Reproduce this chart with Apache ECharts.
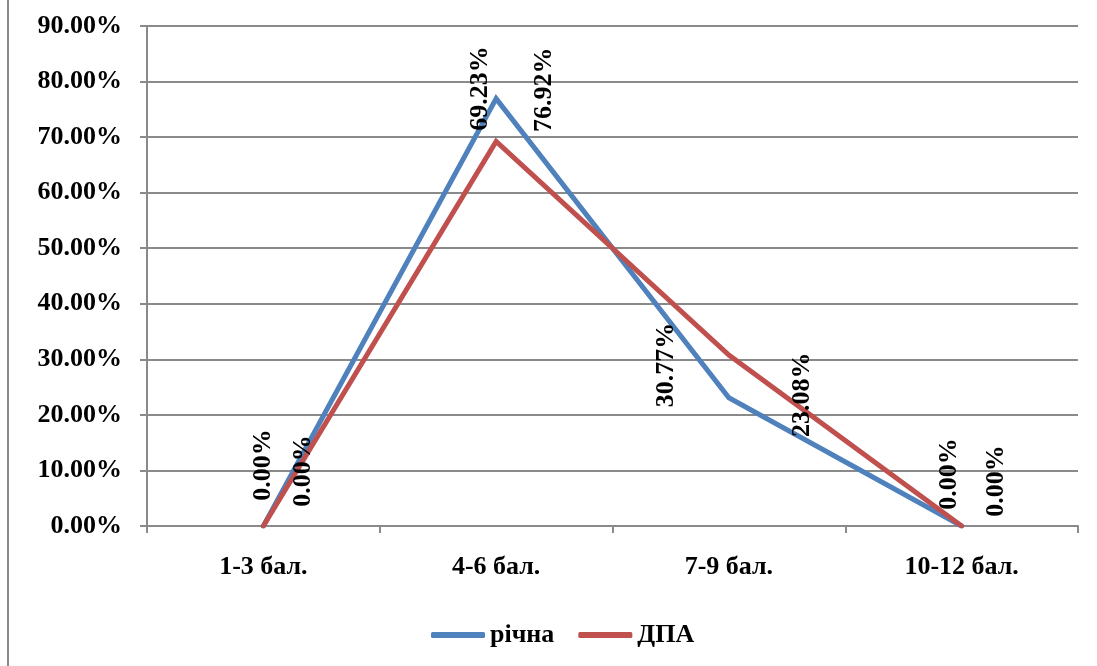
<!DOCTYPE html>
<html>
<head>
<meta charset="utf-8">
<script src="https://cdn.jsdelivr.net/npm/echarts@6/dist/echarts.min.js"></script>
<style>
html,body{margin:0;padding:0;background:#fff;}
#c{width:1097px;height:666px;}
</style>
</head>
<body>
<div id="c"></div>
<script>
const categories = ['1-3 бал.', '4-6 бал.', '7-9 бал.', '10-12 бал.'];
const seriesNames = ['річна', 'ДПА'];
const richna = [0, 76.92, 23.08, 0];
const dpa = [0, 69.23, 30.77, 0];
const yMin = 0, yMax = 90, yStep = 10;

// label placement (screen-pixel shifts [right, down] from each point), as in the original
const richnaLabelShifts = [[40, -55], [48, -9], [73, -3], [35, -45]];
const dpaLabelShifts = [[0, -61], [-16, -53], [-63, 10], [-12, -52]];

const FONT = '"Liberation Serif", "Times New Roman", serif';
const FS = 26;
const pct = v => Number(v).toFixed(2) + '%';

// label offset is applied in the rotated (90°) text frame
const toLocal = s => [-s[1], s[0]];

function buildData(values, shifts) {
  return values.map((v, i) => ({
    value: v,
    label: { offset: toLocal(shifts[i]) }
  }));
}

function lineSeries(name, values, shifts, color) {
  return {
    name: name,
    type: 'line',
    data: buildData(values, shifts),
    symbol: 'circle',
    symbolSize: 1,
    showSymbol: true,
    itemStyle: { color: color },
    lineStyle: { color: color, width: 5, cap: 'round', join: 'miter' },
    label: {
      show: true,
      position: 'inside',
      rotate: 90,
      color: '#000',
      fontFamily: FONT,
      fontWeight: 'bold',
      fontSize: FS,
      formatter: p => pct(p.value)
    },
    emphasis: { disabled: true },
    animation: false
  };
}

const chart = echarts.init(document.getElementById('c'), null, { renderer: 'canvas' });
chart.setOption({
  backgroundColor: '#fff',
  animation: false,
  textStyle: { fontFamily: FONT, fontWeight: 'bold', color: '#000' },
  grid: { left: 147, right: 19, top: 26, bottom: 140, containLabel: false },
  xAxis: {
    type: 'category',
    data: categories,
    boundaryGap: true,
    axisLine: { lineStyle: { color: '#8a8a8a', width: 2 } },
    axisTick: { show: true, length: 7, lineStyle: { color: '#8a8a8a', width: 2 } },
    axisLabel: { color: '#000', fontFamily: FONT, fontWeight: 'bold', fontSize: FS, margin: 28 }
  },
  yAxis: {
    type: 'value',
    min: yMin, max: yMax, interval: yStep,
    axisLine: { show: true, lineStyle: { color: '#8a8a8a', width: 2 } },
    axisTick: { show: true, length: 7, lineStyle: { color: '#8a8a8a', width: 2 } },
    splitLine: { lineStyle: { color: '#8a8a8a', width: 2 } },
    axisLabel: { color: '#000', fontFamily: FONT, fontWeight: 'bold', fontSize: FS, margin: 25, formatter: v => pct(v) }
  },
  legend: {
    data: seriesNames,
    left: 426,
    top: 617,
    icon: 'roundRect',
    itemWidth: 54,
    itemHeight: 6,
    itemGap: 24,
    textStyle: { color: '#000', fontFamily: FONT, fontWeight: 'bold', fontSize: FS }
  },
  graphic: [{
    type: 'line',
    shape: { x1: 8, y1: 0, x2: 8, y2: 666 },
    style: { stroke: '#8a8a8a', lineWidth: 2 },
    silent: true
  }],
  series: [
    lineSeries(seriesNames[0], richna, richnaLabelShifts, '#4F81BD'),
    lineSeries(seriesNames[1], dpa, dpaLabelShifts, '#C0504D')
  ]
});
</script>
</body>
</html>
